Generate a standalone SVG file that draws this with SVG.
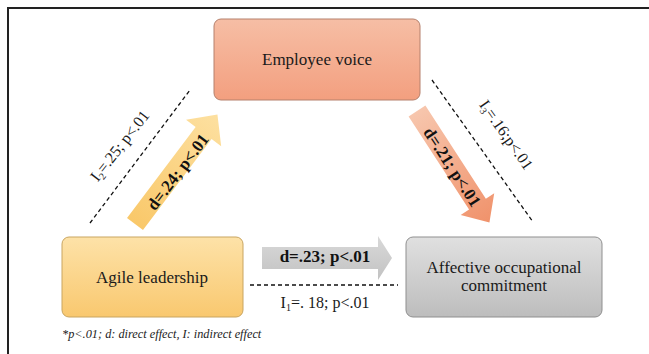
<svg xmlns="http://www.w3.org/2000/svg" width="649" height="354" viewBox="0 0 649 354">
<defs>
<linearGradient id="gEmp" x1="0" y1="0" x2="0" y2="1"><stop offset="0" stop-color="#f6bea5"/><stop offset="1" stop-color="#f39f7f"/></linearGradient>
<linearGradient id="gAgi" x1="0" y1="0" x2="0" y2="1"><stop offset="0" stop-color="#fde2a8"/><stop offset="1" stop-color="#f9c86f"/></linearGradient>
<linearGradient id="gAff" x1="0" y1="0" x2="0" y2="1"><stop offset="0" stop-color="#e0e0e0"/><stop offset="1" stop-color="#bdbdbd"/></linearGradient>
<linearGradient id="gArrY" x1="0" y1="0" x2="1" y2="0"><stop offset="0" stop-color="#f9c86a"/><stop offset="1" stop-color="#fde0a0"/></linearGradient>
<linearGradient id="gArrR" x1="0" y1="0" x2="1" y2="0"><stop offset="0" stop-color="#f7c6ad"/><stop offset="1" stop-color="#f0926b"/></linearGradient>
<linearGradient id="gArrG" x1="0" y1="0" x2="0" y2="1"><stop offset="0" stop-color="#d9d9d9"/><stop offset="1" stop-color="#c2c2c2"/></linearGradient>
<style>
.box{stroke-width:1}
.lbl{font-family:"Liberation Serif","Times New Roman",serif;font-size:17px;fill:#1a1a1a;text-anchor:middle}
.eff{font-family:"Liberation Serif","Times New Roman",serif;font-size:17px;font-weight:bold;fill:#111;text-anchor:middle}
.ind{font-family:"Liberation Serif","Times New Roman",serif;font-size:16px;fill:#1a1a1a;text-anchor:middle}
.dash{stroke:#111;stroke-width:1.3;stroke-dasharray:4 3;fill:none}
.note{font-family:"Liberation Serif","Times New Roman",serif;font-size:12.3px;font-style:italic;fill:#222}
</style>
</defs>
<rect x="0" y="0" width="649" height="354" fill="#ffffff"/>
<path d="M8,354 V8 H649" fill="none" stroke="#222" stroke-width="2"/>

<g id="employee-voice">
<rect class="box" x="214" y="19" width="206" height="81" rx="7" fill="url(#gEmp)" stroke="#b5806c"/>
<text class="lbl" x="317" y="65">Employee voice</text>
</g>
<g id="agile-leadership">
<rect class="box" x="62" y="237" width="181" height="80" rx="7" fill="url(#gAgi)" stroke="#c9a560"/>
<text class="lbl" x="152" y="283">Agile leadership</text>
</g>
<g id="affective-commitment">
<rect class="box" x="406" y="237" width="196" height="80" rx="7" fill="url(#gAff)" stroke="#8f8f8f"/>
<text class="lbl" x="504" y="273">Affective occupational</text>
<text class="lbl" x="504" y="291">commitment</text>
</g>

<g id="connectors">
<g transform="translate(135,224) rotate(-53)">
<polygon points="0,-10 114,-10 114,-22 137,0 114,22 114,10 0,10" fill="url(#gArrY)"/>
</g>
<g transform="translate(417,111) rotate(57)">
<polygon points="0,-10 111,-10 111,-20 133,0 111,20 111,10 0,10" fill="url(#gArrR)"/>
</g>
<polygon points="262,247 378,247 378,236 392,258 378,280 378,269 262,269" fill="url(#gArrG)"/>
<line class="dash" x1="90" y1="223" x2="190" y2="90"/>
<line class="dash" x1="432" y1="80" x2="533" y2="222"/>
<line class="dash" x1="250" y1="285" x2="398" y2="285"/>
<text class="eff" transform="translate(178,172) rotate(-53)" x="0" y="5.5">d=.24; p&lt;.01</text>
<text class="eff" transform="translate(452,167) rotate(57)" x="0" y="5.5">d=.21; p&lt;.01</text>
<text class="eff" x="325" y="262">d=.23; p&lt;.01</text>
<text class="ind" transform="translate(120,146) rotate(-52)" x="0" y="5">I<tspan font-size="10" dy="3">2</tspan><tspan dy="-3">=.25; p&lt;.01</tspan></text>
<text class="ind" transform="translate(506,135) rotate(55)" x="0" y="5">I<tspan font-size="10" dy="3">3</tspan><tspan dy="-3">=.16;p&lt;.01</tspan></text>
<text class="ind" x="325" y="308">I<tspan font-size="10" dy="3">1</tspan><tspan dy="-3">=. 18; p&lt;.01</tspan></text>
</g>

<text class="note" x="62" y="338">*p&lt;.01; d: direct effect, I: indirect effect</text>
</svg>
